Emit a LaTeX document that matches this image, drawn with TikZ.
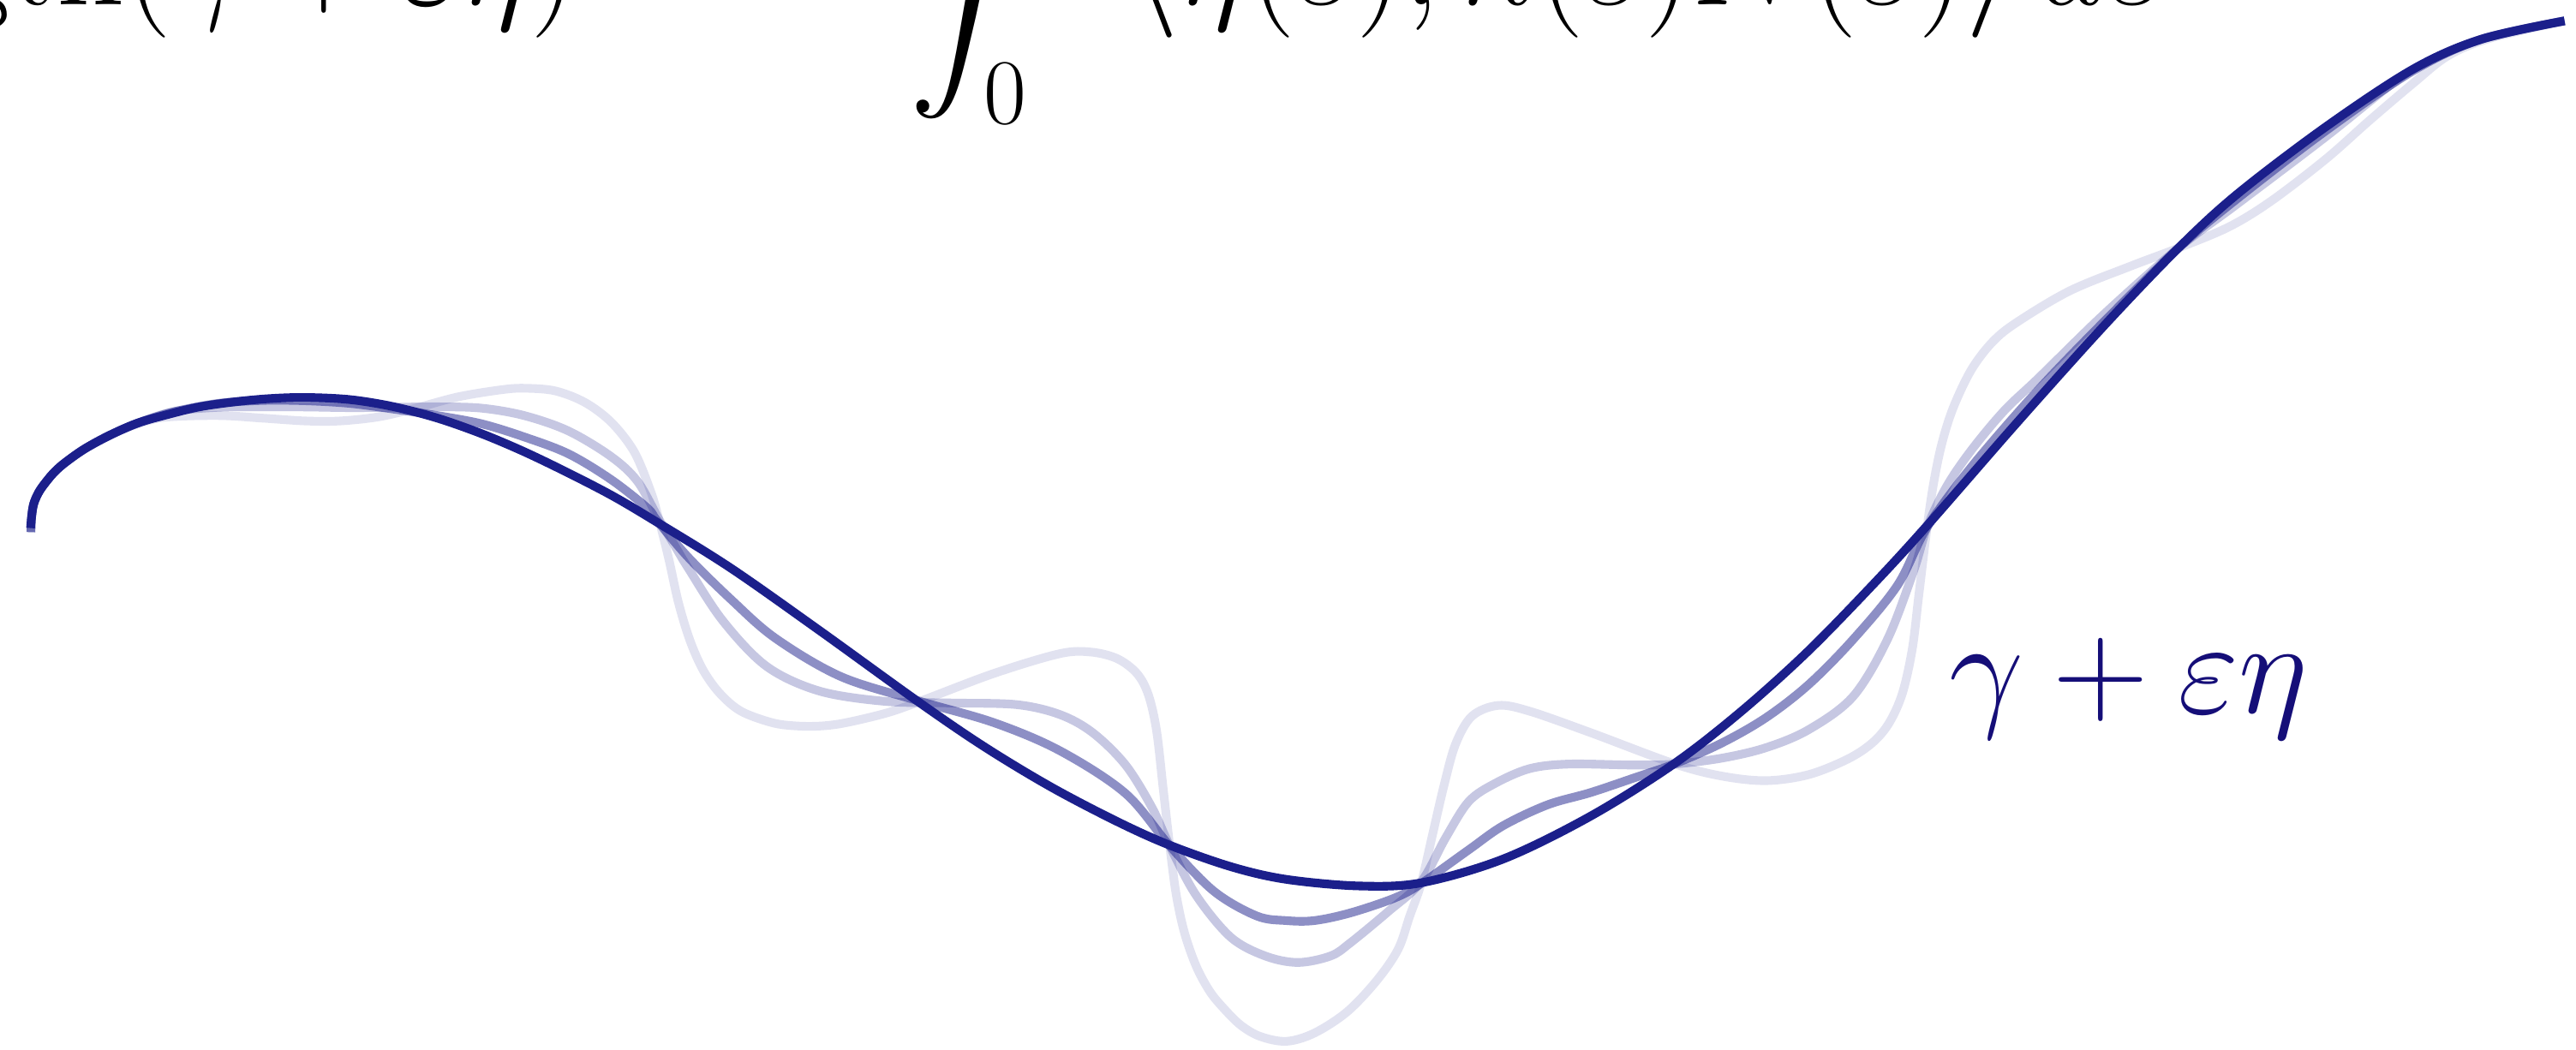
\RequirePackage{fix-cm}
\documentclass[tikz,border=0pt]{standalone}
\usepackage{amsmath}
\DeclareFontShape{OMX}{cmex}{m}{n}{<->cmex10}{}
\definecolor{curvecol}{RGB}{27,31,139}
\definecolor{labcol}{RGB}{21,14,120}
\tikzset{
  gammacurve/.style={draw=curvecol, line width=3pt, line join=round},
  pertA/.style={gammacurve, draw opacity=0.5},
  pertB/.style={gammacurve, draw opacity=0.25},
  pertC/.style={gammacurve, draw opacity=0.13},
  bigmath/.style={inner sep=0pt, font=\fontsize{46}{55}\selectfont},
}
\begin{document}
\begin{tikzpicture}[x=0.02cm,y=-0.02cm]
\useasboundingbox (0,0) rectangle (1568,639);
\begin{scope}
\clip (0,0) rectangle (1568,639);

% lightest perturbation
\draw[pertC] plot[smooth,tension=0.55] coordinates {
(18.8,324) (19.3,314) (20.6,306.5) (23.7,299.5) (28.1,293.3) (33.5,287) (40.5,281) (52,273) (67.2,264.8) (84,258) (101,254) (133,253) (160,254.6) (186,256.3) (207,256.3) (231,253.7) (253,248.5) (279,241.6) (306,237.2) (320,236.4) (338,238) (356,245) (372,257) (386,275) (396,299) (401,316) (407,340) (413,367) (420,390) (428,408) (438,422) (451,433) (470,440) (485,442) (500,442) (515,440) (540,434) (560,427) (605,410) (645,398) (664,397) (680,401) (692,410) (699,423) (704,445) (708,480) (712,515) (716,545) (721,568) (728,588) (736,603) (744,613) (755,624) (767,631) (783,634) (800,629) (820,616) (838,597) (851,578) (858,558) (865,538) (872,508) (879,478) (886,453) (896,436) (912,429.5) (931,433) (968,446) (1019,465) (1048,472.5) (1075,475.3) (1101,471.6) (1125,462) (1140,452) (1150,440) (1158,422) (1164,395) (1168,362) (1173,321) (1177,294) (1182,270) (1189,248) (1200,225) (1213,208) (1228,196) (1260,177) (1297,162) (1326,151) (1357,138) (1383,122) (1416,96.6) (1442,73.6) (1469,50.6) (1490,34) (1515,23.5) (1561,12.7)};

% medium-light perturbation
\draw[pertB] plot[smooth,tension=0.55] coordinates {
(18.8,324) (19.3,314) (20.6,306.5) (23.7,299.5) (28.1,293.3) (33.5,287) (40.5,281) (52,273) (67.2,264.8) (84,257.6) (106,250.5) (133,248) (160,247.7) (186,247.8) (213,248.2) (240,248) (266,247.7) (293,248.5) (319,253) (346,262.4) (372,278) (388,293) (401,316) (410,331) (419,346) (440,378) (466.6,405.7) (498.6,420.7) (538.6,427) (578.7,428) (618.7,429) (645,435) (665,446) (685,465.6) (701,491.3) (712,515) (728,545) (749,570.5) (770,582) (790,586) (810,582) (822,574) (845,555) (865,537) (880,510) (894,488) (910,477) (931,468) (955,465.2) (995,465.8) (1019,465.2) (1048,461.6) (1075,455.2) (1101,444.2) (1128,424) (1149,389) (1165,347) (1173,321) (1185,296) (1200,274) (1220,250) (1241,230) (1281,191) (1326,151) (1362,124) (1416,83) (1456,51) (1475,39) (1510,24) (1561,12.7)};

% medium perturbation
\draw[pertA] plot[smooth,tension=0.55] coordinates {
(18.8,324) (19.3,314) (20.6,306.5) (23.7,299.5) (28.1,293.3) (33.5,287) (40.5,281) (52,273) (67.2,264.8) (84,257.5) (106,250.7) (133,245.6) (160,243.8) (186,244) (213,245.6) (239,249) (266,253) (293,258) (319,266) (346,276.3) (372,292) (394,309.3) (400,317) (419,339.4) (445,365) (472,388.6) (512,412) (560,427) (605,440) (645,457) (685,483) (712,515) (739,542.7) (765,557.7) (783,560.5) (800,560.5) (822,555.8) (849,546.7) (865,538) (894,517.4) (915,502.7) (942,490) (968,482.6) (995,473.5) (1019,465.2) (1048,452.4) (1075,436.9) (1101,416.7) (1128,389.3) (1155,356.3) (1173,321) (1201,283) (1241,237) (1281,195.5) (1326,151) (1362,120.8) (1416,79.4) (1469,43) (1510,24) (1561,12.7)};

% the curve gamma
\draw[gammacurve] plot[smooth,tension=0.55] coordinates {
(18.6,321.5) (19.3,314) (20.6,306.5) (23.7,299.5) (28.1,293.3) (33.5,287) (40.5,281) (52,273) (67.2,264.8) (84,257.5) (102,252.4) (121,247.8) (142.5,244.7) (164,242.7) (186,242) (213,243.3) (239,247.5) (266,254.5) (293,264) (319,275) (346,288) (373,302) (400,318) (445,346) (499,384) (560,428) (600,455.2) (640,479.3) (680,500.2) (712,514.6) (750,527.9) (783,535.4) (827,539.4) (865,537.5) (915,523) (968,497) (1019,465) (1060,433) (1100,397) (1140,356) (1173,320) (1228,257) (1281,198) (1326,151) (1362,118) (1416,77) (1469,42) (1510,24) (1561,12.7)};

\node[bigmath, anchor=base east] (formula) at (1320,3)
  {$\displaystyle \frac{d}{d\varepsilon}\Big|_{\varepsilon=0}\mathrm{Length}(\gamma+\varepsilon\eta) = -\mkern5mu\int_0^L\mkern3mu \langle \eta(s), \kappa(s)N(s)\rangle\, ds$};
\node[bigmath, anchor=base west, text=labcol] (lbl) at (1186,434) {$\gamma+\varepsilon\eta$};
\end{scope}
\end{tikzpicture}
\end{document}
